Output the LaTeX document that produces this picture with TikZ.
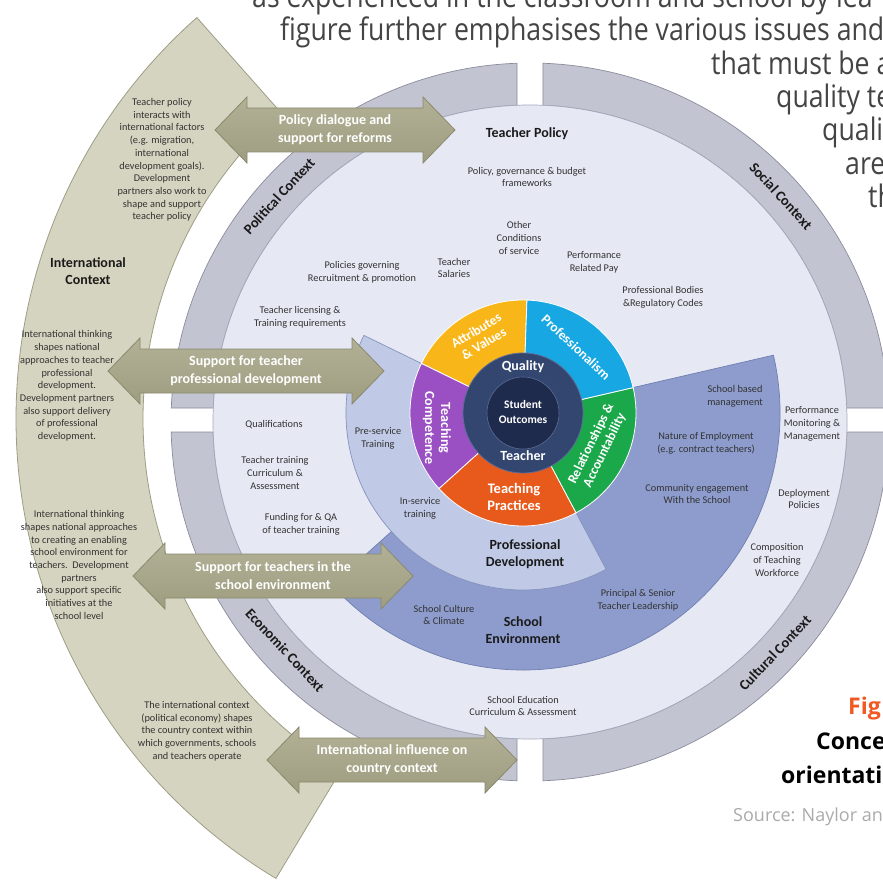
\documentclass[tikz,border=0pt]{standalone}
\usepackage{fontspec}
\setmainfont{Carlito}
\newfontfamily\pagefont[FakeStretch=0.86]{Open Sans}
\newfontfamily\capfont{Open Sans}

\definecolor{pagegray}{HTML}{444444}
\definecolor{srcgray}{HTML}{ABABAB}
\definecolor{figorange}{HTML}{F05A22}
\definecolor{bandfill}{HTML}{D5D4C0}
\definecolor{bandline}{HTML}{9E9D86}
\definecolor{arrowtop}{HTML}{B2B196}
\definecolor{arrowbot}{HTML}{9E9D80}
\definecolor{arrowline}{HTML}{8A896E}
\definecolor{ringfill}{HTML}{C3C4D2}
\definecolor{ringline}{HTML}{8A8C9C}
\definecolor{diskfill}{HTML}{E6E9F4}
\definecolor{diskline}{HTML}{A3A8BA}
\definecolor{pdfill}{HTML}{C0CAE6}
\definecolor{pdline}{HTML}{8592BB}
\definecolor{sefill}{HTML}{8D9CCC}
\definecolor{seline}{HTML}{6F7FB0}
\definecolor{wyellow}{HTML}{F8B619}
\definecolor{wblue}{HTML}{17A7E3}
\definecolor{wgreen}{HTML}{1AA84B}
\definecolor{worange}{HTML}{E85A1C}
\definecolor{wpurple}{HTML}{9A4FC3}
\definecolor{navyring}{HTML}{33466F}
\definecolor{navycore}{HTML}{1F2B4D}
\definecolor{navyline}{HTML}{5C6C96}
\definecolor{lbltext}{HTML}{333333}
\definecolor{headtext}{HTML}{1A1A1A}

\tikzset{
  pagetxt/.style={anchor=base west, inner sep=0, font=\pagefont\fontsize{31}{34}\selectfont, text=pagegray},
  captxt/.style={anchor=base west, inner sep=0, font=\capfont\bfseries\fontsize{23}{26}\selectfont},
  lbl/.style={inner sep=0, align=center, text=lbltext, font=\fontsize{10.3}{12.7}\selectfont},
  headlbl/.style={inner sep=0, align=center, text=headtext, font=\bfseries\fontsize{14}{17.5}\selectfont},
  ctxlbl/.style={inner sep=0, text=headtext, font=\bfseries\fontsize{14.5}{16}\selectfont},
  wheellbl/.style={inner sep=0, align=center, text=white, font=\bfseries\fontsize{14}{16}\selectfont},
  arrowtxt/.style={inner sep=0, align=center, text=white, font=\bfseries\fontsize{14}{18}\selectfont},
  arrowbody/.style={top color=arrowtop, bottom color=arrowbot, draw=arrowline, line width=0.8pt, line join=miter},
  ringpart/.style={fill=ringfill, draw=ringline, line width=0.7pt},
  sector/.style={draw=white, line width=0.8pt}
}

% double-headed block arrow: left tip x, centre y, shaft length
\newcommand{\olivearrow}[3]{%
  \path[arrowbody] (#1,#2) -- ++(32,33) -- ++(0,-11) -- ++(#3,0) -- ++(0,11)
    -- ++(32,-33) -- ++(-32,-33) -- ++(0,11) -- ++(-#3,0) -- ++(0,-11) -- cycle;}

\begin{document}
\begin{tikzpicture}[x=1pt,y=1pt]
\useasboundingbox (0,0) rectangle (882,-882);
\fill[white] (0,0) rectangle (882,-882);

% running page text around the figure
\begin{scope}
  \clip (0,0) rectangle (882,-882);
  \node[pagetxt] (pl1) at (252,-8) {as experienced in the classroom and school by lea};
  \node[pagetxt] (pl2) at (280,-41) {figure further emphasises the various issues and};
  \node[pagetxt] (pl3) at (711,-75) {that must be a};
  \node[pagetxt] (pl4) at (776,-108) {quality te};
  \node[pagetxt] (pl5) at (822,-141) {quali};
  \node[pagetxt] (pl6) at (845,-175) {are};
  \node[pagetxt] (pl7) at (868,-208) {th};
  \node[captxt, text=figorange] (cap1) at (848,-714) {Fig};
  \node[captxt, text=black] (cap2) at (816,-749) {Conce};
  \node[captxt, text=black] (cap3) at (781,-783) {orientati};
  \node[anchor=base west, inner sep=0, font=\capfont\fontsize{18}{20}\selectfont, text=srcgray] (src) at (733,-821) {Source: Naylor and};
\end{scope}

% international context band
\begin{scope}[shift={(552,-419)}]
  \filldraw[fill=bandfill, draw=bandline, line width=0.8pt]
    (131.5:536) arc[start angle=131.5, end angle=239, radius=536]
    -- (239:409) arc[start angle=239, end angle=131.5, radius=409] -- cycle;
\end{scope}

% country context ring, four quarters
\begin{scope}[shift={(530,-422)}]
  \path[ringpart] (92.07:359) arc[start angle=92.07, end angle=177.77, radius=359]
    -- (177.47:317) arc[start angle=177.47, end angle=92.35, radius=317] -- cycle;
  \path[ringpart] (2.23:359) arc[start angle=2.23, end angle=87.93, radius=359]
    -- (87.65:317) arc[start angle=87.65, end angle=2.53, radius=317] -- cycle;
  \path[ringpart] (181.6:359) arc[start angle=181.6, end angle=267.92, radius=359]
    -- (267.65:317) arc[start angle=267.65, end angle=181.81, radius=317] -- cycle;
  \path[ringpart] (272.08:359) arc[start angle=272.08, end angle=358.4, radius=359]
    -- (358.19:317) arc[start angle=358.19, end angle=272.35, radius=317] -- cycle;
  \filldraw[fill=diskfill, draw=diskline, line width=0.7pt] (0,0) circle[radius=317];
\end{scope}

% school environment, professional development and the teacher wheel
\begin{scope}[shift={(523,-413)}]
  \filldraw[fill=sefill, draw=seline, line width=0.7pt]
    (0,0) -- (13:257) arc[start angle=13, end angle=-138, radius=257] -- cycle;
  \filldraw[fill=pdfill, draw=pdline, line width=0.7pt]
    (0,0) -- (154:177) arc[start angle=154, end angle=298, radius=177] -- cycle;
  \path[sector, fill=wyellow] (0,0) -- (88:113) arc[start angle=88, end angle=154, radius=113] -- cycle;
  \path[sector, fill=wpurple] (0,0) -- (154:113) arc[start angle=154, end angle=222, radius=113] -- cycle;
  \path[sector, fill=worange] (0,0) -- (222:113) arc[start angle=222, end angle=298, radius=113] -- cycle;
  \path[sector, fill=wgreen] (0,0) -- (298:113) arc[start angle=298, end angle=373, radius=113] -- cycle;
  \path[sector, fill=wblue] (0,0) -- (13:113) arc[start angle=13, end angle=88, radius=113] -- cycle;
  \filldraw[fill=navyring, draw=navyline, line width=0.8pt] (0,0) circle[radius=60];
  \filldraw[fill=navycore, draw=navyline, line width=0.6pt] (0,0) circle[radius=36];
\end{scope}

% ring labels
\node[ctxlbl, rotate=47.5] (polctx) at (279,-196) {Political Context};
\node[ctxlbl, rotate=-47.5] (socctx) at (781,-196) {Social Context};
\node[ctxlbl, rotate=-47] (ecoctx) at (285,-650) {Economic Context};
\node[ctxlbl, rotate=46.5] (culctx) at (775,-653) {Cultural Context};

% wheel labels
\node[wheellbl] (quality) at (523,-367) {Quality};
\node[wheellbl] (teacher) at (523,-456) {Teacher};
\node[wheellbl, font=\bfseries\fontsize{11.5}{14.5}\selectfont] (outcomes) at (523,-412) {Student\\Outcomes};
\node[wheellbl, rotate=31, font=\bfseries\fontsize{13.5}{15}\selectfont] (attrib) at (480,-337) {Attributes\\\& Values};
\node[wheellbl, rotate=-43, font=\bfseries\fontsize{13.5}{15}\selectfont] (prof) at (576,-347) {Professionalism};
\node[wheellbl, rotate=64, font=\bfseries\fontsize{13.5}{15}\selectfont] (relat) at (598,-447) {Relationships \&\\Accountability};
\node[wheellbl, rotate=-90, font=\bfseries\fontsize{14}{16}\selectfont] (compet) at (437,-428) {Teaching\\Competence};
\node[wheellbl, font=\bfseries\fontsize{14.5}{17}\selectfont] (practice) at (514,-497) {Teaching\\Practices};

% teacher policy labels
\node[headlbl] (tpol) at (527,-134) {Teacher Policy};
\node[lbl] (gov) at (527,-177) {Policy, governance \& budget\\frameworks};
\node[lbl] (other) at (519,-238) {Other\\Conditions\\of service};
\node[lbl] (salary) at (454,-268) {Teacher\\Salaries};
\node[lbl] (recruit) at (362,-272) {Policies governing\\Recruitment \& promotion};
\node[lbl] (perfpay) at (594,-262) {Performance\\Related Pay};
\node[lbl] (bodies) at (663,-297) {Professional Bodies\\\&Regulatory Codes};
\node[lbl] (licence) at (300,-317) {Teacher licensing \&\\Training requirements};
\node[lbl] (qualif) at (274,-425) {Qualifications};
\node[lbl] (curric) at (275,-473) {Teacher training\\Curriculum \&\\Assessment};
\node[lbl] (funding) at (301,-524) {Funding for \& QA\\of teacher training};
\node[lbl] (preserv) at (378,-438) {Pre-service\\Training};
\node[lbl] (inserv) at (420,-508) {In-service\\training};
\node[headlbl] (profdev) at (525,-554) {Professional\\Development};
\node[lbl] (culture) at (444,-615) {School Culture\\\& Climate};
\node[headlbl] (schenv) at (523,-630) {School\\Environment};
\node[lbl] (leader) at (638,-600) {Principal \& Senior\\Teacher Leadership};
\node[lbl] (sbm) at (735,-396) {School based\\management};
\node[lbl] (employ) at (706,-443) {Nature of Employment\\(e.g. contract teachers)};
\node[lbl] (commun) at (697,-494) {Community engagement\\With the School};
\node[lbl] (monitor) at (812,-424) {Performance\\Monitoring \&\\Management};
\node[lbl] (deploy) at (804,-499) {Deployment\\Policies};
\node[lbl] (compos) at (777,-560) {Composition\\of Teaching\\Workforce};
\node[lbl] (schedu) at (523,-706) {School Education\\Curriculum \& Assessment};

% international context notes
\node[headlbl] (intctx) at (88,-271) {International\\Context};
\node[lbl] (note1) at (162,-160) {Teacher policy\\interacts with\\international factors\\(e.g. migration,\\international\\development goals).\\Development\\partners also work to\\shape and support\\teacher policy};
\node[lbl] (note2) at (67,-386) {International thinking\\shapes national\\approaches to teacher\\professional\\development.\\Development partners\\also support delivery\\of professional\\development.};
\node[lbl] (note3) at (79,-565) {International thinking\\shapes national approaches\\to creating an enabling\\school environment for\\teachers.\ \ Development\\partners\\also support specific\\initiatives at the\\school level};
\node[lbl] (note4) at (197,-731) {The international context\\(political economy) shapes\\the country context within\\which governments, schools\\and teachers operate};

% double-headed arrows linking the international band to the country
\olivearrow{215}{-130}{176}
\olivearrow{108}{-371}{212}
\olivearrow{133}{-576}{216}
\olivearrow{267}{-760}{186}
\node[arrowtxt] (arr1) at (335,-130) {Policy dialogue and\\support for reforms};
\node[arrowtxt] (arr2) at (246,-371) {Support for teacher\\professional development};
\node[arrowtxt] (arr3) at (273,-576) {Support for teachers in the\\school environment};
\node[arrowtxt] (arr4) at (392,-760) {International influence on\\country context};
\end{tikzpicture}
\end{document}
